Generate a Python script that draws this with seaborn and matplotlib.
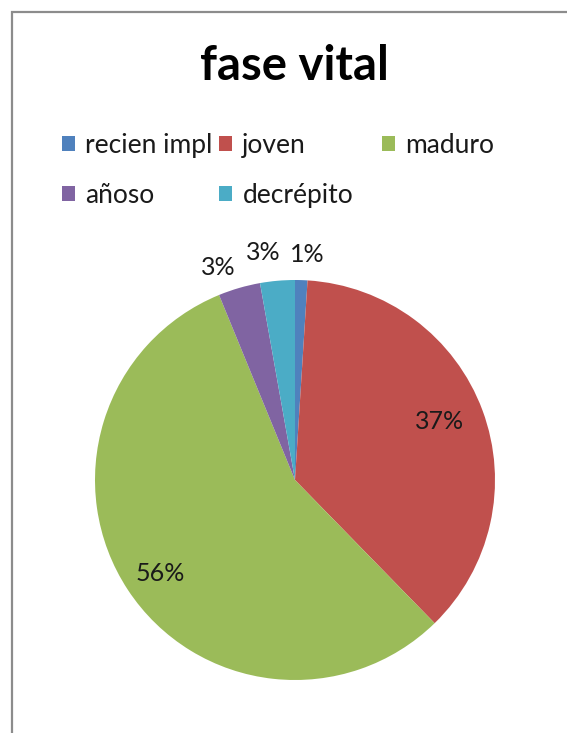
import numpy as np
import seaborn as sns
import matplotlib
import matplotlib.pyplot as plt
from matplotlib.patches import Patch, Rectangle

matplotlib.use("Agg")

# Datos del gráfico
categorias = ["recien impl", "joven", "maduro", "añoso", "decrépito"]
porcentajes = [1.0, 36.7, 56.1, 3.4, 2.8]
colores = ["#4F81BD", "#C0504D", "#9BBB59", "#8064A2", "#4BACC6"]
titulo = "fase vital"

sns.set_theme(style="white")
plt.rcParams["font.family"] = ["Lato", "DejaVu Sans"]

W, H = 567, 733
fig = plt.figure(figsize=(W / 100, H / 100), dpi=100)

# Marco gris del área del gráfico
fig.patches.append(
    Rectangle((12 / W, -0.1), 1.2, 1.1 - 12 / H, transform=fig.transFigure,
              fill=False, edgecolor="#8c8c8c", linewidth=1.6)
)

# Ejes del pastel: centro (295, 480), radio 200 px
cx, cy, r = 295, 480, 200
ax = fig.add_axes([(cx - r) / W, (H - cy - r) / H, 2 * r / W, 2 * r / H])
paleta = sns.color_palette(colores)
wedges, _ = ax.pie(
    porcentajes,
    colors=paleta,
    startangle=90,
    counterclock=False,
    wedgeprops={"linewidth": 0},
)
ax.set_xlim(-1, 1)
ax.set_ylim(-1, 1)

# Etiquetas de porcentaje (dentro para los grandes, fuera para los pequeños)
distancias = [1.13, 0.78, 0.82, 1.13, 1.15]
desplaz = [-1.2, 1.5, 1.3, 3.7, 3.0]  # ajuste angular para evitar solapes
for w, p, d, s in zip(wedges, porcentajes, distancias, desplaz):
    ang = np.deg2rad((w.theta1 + w.theta2) / 2 + s)
    ax.text(d * np.cos(ang), d * np.sin(ang), f"{p:.0f}%",
            ha="center", va="center", fontsize=18, color="#1a1a1a")

fig.text(294 / W, 1 - 66 / H, titulo, ha="center", va="center",
         fontsize=34, fontweight="bold", color="black")

# Leyenda en filas: dos primeras columnas y la tercera (maduro) aparte
handles = [Patch(facecolor=c, edgecolor="none") for c in paleta]
estilo = dict(
    loc="upper left",
    frameon=False,
    borderpad=0,
    borderaxespad=0,
    fontsize=19,
    handlelength=0.48,
    handleheight=0.48,
    handletextpad=0.4,
    columnspacing=0.25,
    labelspacing=0.95,
    labelcolor="#1a1a1a",
)
orden = [0, 3, 1, 4]
fig.legend([handles[i] for i in orden], [categorias[i] for i in orden],
           ncol=2, bbox_to_anchor=(62 / W, 1 - 133 / H), **estilo)
fig.legend([handles[2]], [categorias[2]], ncol=1,
           bbox_to_anchor=(382 / W, 1 - 133 / H), **estilo)

fig.savefig("out.png", dpi=100)
